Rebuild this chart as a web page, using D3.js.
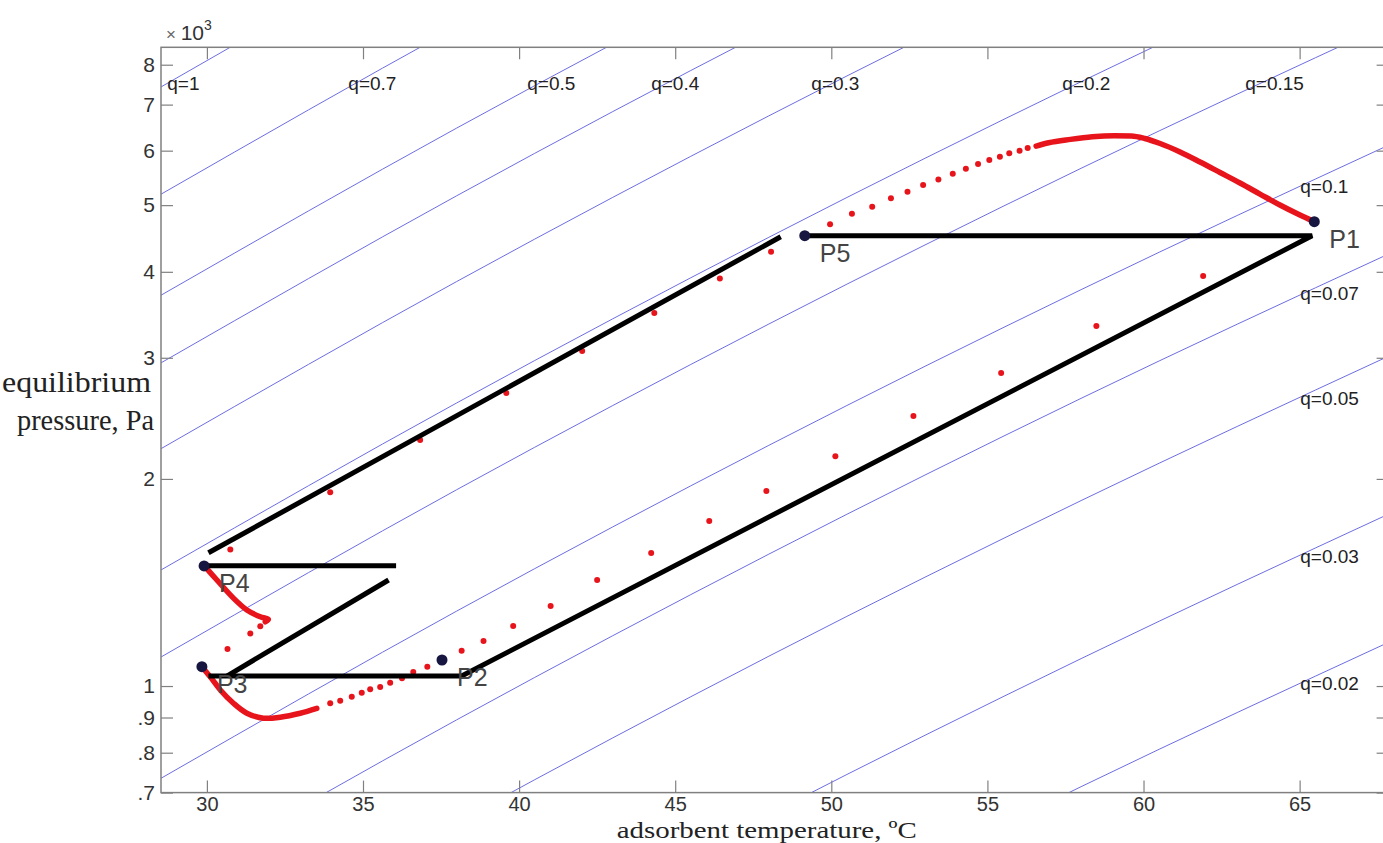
<!DOCTYPE html>
<html>
<head>
<meta charset="utf-8">
<script src="https://cdn.jsdelivr.net/npm/d3@7"></script>
<style>
  body { margin: 0; background: #fff; }
  svg { display: block; }
</style>
</head>
<body>
<div id="wrapper"></div>
<script>
// ---- data (T in degC, p in Pa) ----
const xTicks = [30, 35, 40, 45, 50, 55, 60, 65];
const yTicks = [700, 800, 900, 1000, 2000, 3000, 4000, 5000, 6000, 7000, 8000];
const yTickLabels = [".7", ".8", ".9", "1", "2", "3", "4", "5", "6", "7", "8"];

// isosteres, pressure read at these temperatures
const isoT = [28.5, 38, 48, 58, 68];
const isoNames = ["q=1", "q=0.7", "q=0.5", "q=0.4", "q=0.3", "q=0.2", "q=0.15", "q=0.1", "q=0.07", "q=0.05", "q=0.03", "q=0.02"];
const isoP = [
  [7413, 12993, 22625, 38092, 62238],
  [5177, 9075, 15798, 26609, 43457],
  [3692, 6471, 11266, 18973, 30990],
  [2944, 5159, 8985, 15129, 24710],
  [2209, 3872, 6742, 11357, 18546],
  [1472, 2579, 4490, 7558, 12351],
  [1100, 1929, 3359, 5656, 9238],
  [733, 1285, 2238, 3768, 6156],
  [510, 893, 1555, 2619, 4277],
  [362, 634, 1105, 1860, 3038],
  [214, 374, 651, 1096, 1791],
  [139, 244, 424, 714, 1166]
];
const qLabelT = [28.73, 34.53, 40.26, 44.23, 49.36, 57.40, 63.26, 65.02, 65.02, 65.02, 65.02, 65.02];
const qLabelP = [7500, 7500, 7500, 7500, 7500, 7500, 7500, 5318, 3723, 2622, 1541, 1009];

// dense parts of the simulated cycle
const curvePeak = [[56.56, 6093], [56.96, 6160], [57.66, 6231], [58.36, 6286], [59.06, 6308], [59.61, 6302], [60.04, 6249],
  [60.53, 6145], [61.17, 5973], [61.81, 5776], [62.45, 5577], [63.09, 5384], [63.73, 5189], [64.37, 5002], [65.01, 4837], [65.47, 4730]];
const curveP4 = [[29.89, 1500], [30.32, 1426], [30.85, 1342], [31.28, 1290], [31.71, 1261], [31.97, 1250], [31.87, 1240]];
const curveP3 = [[29.84, 1067], [30.11, 1031], [30.43, 987], [30.85, 944], [31.28, 913], [31.81, 898], [32.35, 901], [32.99, 913], [33.52, 928]];

// sparse simulated points
const dotsT = [49.96, 50.66, 51.31, 51.91, 52.44, 52.94, 53.43, 53.89, 54.31, 54.70, 55.06, 55.40, 55.70, 56.03, 56.29,
  48.07, 46.43, 44.33, 42.02, 39.59, 36.83, 33.95, 30.75,
  31.71, 31.39, 30.66,
  33.95, 34.27, 34.64, 34.96, 35.23, 35.55, 35.87, 36.25, 36.61, 37.06,
  38.16, 38.86, 39.81, 41.01, 42.50, 44.23, 46.09, 47.92, 50.13, 52.63, 55.44, 58.49, 61.91];
const dotsP = [4689, 4858, 4973, 5115, 5229, 5347, 5450, 5554, 5647, 5737, 5814, 5879, 5946, 5998, 6053,
  4278, 3913, 3484, 3068, 2666, 2278, 1912, 1579,
  1221, 1192, 1132,
  944, 952, 965, 978, 989, 997, 1011, 1026, 1048, 1067,
  1125, 1163, 1223, 1307, 1426, 1561, 1737, 1921, 2158, 2468, 2851, 3336, 3943];

// idealised cycle (black)
const idealPaths = [
  [[30.05, 1562], [48.38, 4498]],
  [[49.15, 4514], [65.40, 4514], [38.16, 1034], [30.05, 1034]],
  [[30.64, 1034], [35.82, 1426]],
  [[29.91, 1496], [36.06, 1496]]
];

const stateNames = ["P1", "P2", "P3", "P4", "P5"];
const stateT = [65.47, 37.53, 29.84, 29.91, 49.15];
const stateP = [4730, 1091, 1067, 1495, 4514];

// ---- layout ----
const width = 1383, height = 843;
const svg = d3.select("#wrapper").append("svg")
  .attr("width", width).attr("height", height);

const xScale = d3.scaleLinear().domain([28.53, 67.85]).range([161, 1388.6]);
const yScale = d3.scaleLog().domain([700, 8480]).range([792.6, 47.3]);

const [x0, x1] = xScale.range();
const [yb, yt] = yScale.range();

const axisColor = "#808080";
const textColor = "#333";

svg.append("clipPath").attr("id", "plotclip")
  .append("rect").attr("x", x0).attr("y", yt).attr("width", x1 - x0).attr("height", yb - yt);

const plot = svg.append("g").attr("clip-path", "url(#plotclip)");

// isosteres
const isoLine = d3.line()
  .x(d => xScale(d[0]))
  .y(d => yScale(d[1]))
  .curve(d3.curveMonotoneX);

plot.append("g").selectAll("path")
  .data(isoP)
  .join("path")
  .attr("d", ps => isoLine(ps.map((p, i) => [isoT[i], p])))
  .attr("fill", "none")
  .attr("stroke", "#6d6de2")
  .attr("stroke-width", 1);

// simulated cycle, red
const redLine = d3.line()
  .x(d => xScale(d[0]))
  .y(d => yScale(d[1]))
  .curve(d3.curveCatmullRom);

const redMono = d3.line()
  .x(d => xScale(d[0]))
  .y(d => yScale(d[1]))
  .curve(d3.curveMonotoneX);

const redCurves = plot.append("g")
  .attr("fill", "none")
  .attr("stroke", "#e8141c")
  .attr("stroke-width", 5.5)
  .attr("stroke-linecap", "round")
  .attr("stroke-linejoin", "round");

redCurves.append("path").attr("d", redMono(curvePeak));
redCurves.selectAll("path.cr")
  .data([curveP4, curveP3])
  .join("path")
  .attr("class", "cr")
  .attr("d", redLine);

plot.append("g").selectAll("circle")
  .data(dotsT)
  .join("circle")
  .attr("cx", d => xScale(d))
  .attr("cy", (d, i) => yScale(dotsP[i]))
  .attr("r", 3)
  .attr("fill", "#e8141c");

// ideal cycle, black
const blackLine = d3.line()
  .x(d => xScale(d[0]))
  .y(d => yScale(d[1]));

plot.append("g").selectAll("path")
  .data(idealPaths)
  .join("path")
  .attr("d", blackLine)
  .attr("fill", "none")
  .attr("stroke", "#000")
  .attr("stroke-width", 5)
  .attr("stroke-linejoin", "miter");

// state points
plot.append("g").selectAll("circle")
  .data(stateT)
  .join("circle")
  .attr("cx", d => xScale(d))
  .attr("cy", (d, i) => yScale(stateP[i]))
  .attr("r", 5.5)
  .attr("fill", "#161640");

svg.append("g").selectAll("text")
  .data(stateNames)
  .join("text")
  .attr("x", (d, i) => xScale(stateT[i]) + 15)
  .attr("y", (d, i) => yScale(stateP[i]) + 17)
  .attr("dominant-baseline", "central")
  .attr("font-family", "Liberation Sans, Arial, sans-serif")
  .attr("font-size", 25)
  .attr("fill", "#444")
  .text(d => d);

// isostere labels
svg.append("g").selectAll("text")
  .data(isoNames)
  .join("text")
  .attr("x", (d, i) => xScale(qLabelT[i]))
  .attr("y", (d, i) => yScale(qLabelP[i]))
  .attr("dominant-baseline", "central")
  .attr("font-family", "Liberation Sans, Arial, sans-serif")
  .attr("font-size", 19)
  .attr("fill", "#222")
  .text(d => d);

// ---- axes ----
const styleAxis = (size) => g => {
  g.select(".domain").remove();
  g.selectAll(".tick line").attr("stroke", axisColor).attr("stroke-width", 1.2);
  g.selectAll(".tick text")
    .attr("fill", textColor)
    .attr("font-family", "Liberation Sans, Arial, sans-serif")
    .attr("font-size", size);
};

svg.append("g")
  .attr("transform", `translate(0,${yb})`)
  .call(d3.axisBottom(xScale).tickValues(xTicks).tickSizeInner(-12).tickSizeOuter(0).tickPadding(4))
  .call(styleAxis(20));

svg.append("g")
  .attr("transform", `translate(0,${yt})`)
  .call(d3.axisTop(xScale).tickValues(xTicks).tickSizeInner(-12).tickSizeOuter(0).tickFormat(""))
  .call(styleAxis(20));

svg.append("g")
  .attr("transform", `translate(${x0},0)`)
  .call(d3.axisLeft(yScale).tickValues(yTicks).tickFormat((d, i) => yTickLabels[i]).tickSizeInner(-12).tickSizeOuter(0).tickPadding(6))
  .call(styleAxis(21));

svg.append("g")
  .attr("transform", `translate(${x1},0)`)
  .call(d3.axisRight(yScale).tickValues(yTicks).tickSizeInner(-12).tickSizeOuter(0).tickFormat(""))
  .call(styleAxis(21));

svg.append("rect")
  .attr("x", x0).attr("y", yt)
  .attr("width", x1 - x0).attr("height", yb - yt)
  .attr("fill", "none")
  .attr("stroke", axisColor)
  .attr("stroke-width", 1.5);

// exponent
const expo = svg.append("text")
  .attr("x", 166).attr("y", 40)
  .attr("font-family", "Liberation Sans, Arial, sans-serif")
  .attr("fill", textColor);
expo.append("tspan").attr("font-size", 17).attr("fill", "#666").text("× ");
expo.append("tspan").attr("font-size", 21).text("10");
expo.append("tspan").attr("font-size", 14).attr("dy", -10).text("3");

// axis titles
svg.append("text")
  .attr("x", (x0 + x1) / 2 - 8)
  .attr("y", 837.5)
  .attr("text-anchor", "middle")
  .attr("font-family", "Liberation Serif, Times New Roman, serif")
  .attr("font-size", 24)
  .attr("textLength", 300)
  .attr("lengthAdjust", "spacingAndGlyphs")
  .attr("fill", "#222")
  .text("adsorbent temperature, ºC");

const ytitle = svg.append("g")
  .attr("font-family", "Liberation Serif, Times New Roman, serif")
  .attr("font-size", 29)
  .attr("fill", "#222");
ytitle.append("text").attr("x", 2).attr("y", 392)
  .attr("textLength", 149).attr("lengthAdjust", "spacingAndGlyphs")
  .text("equilibrium");
ytitle.append("text").attr("x", 17).attr("y", 430)
  .attr("textLength", 137).attr("lengthAdjust", "spacingAndGlyphs")
  .text("pressure, Pa");
</script>
</body>
</html>
